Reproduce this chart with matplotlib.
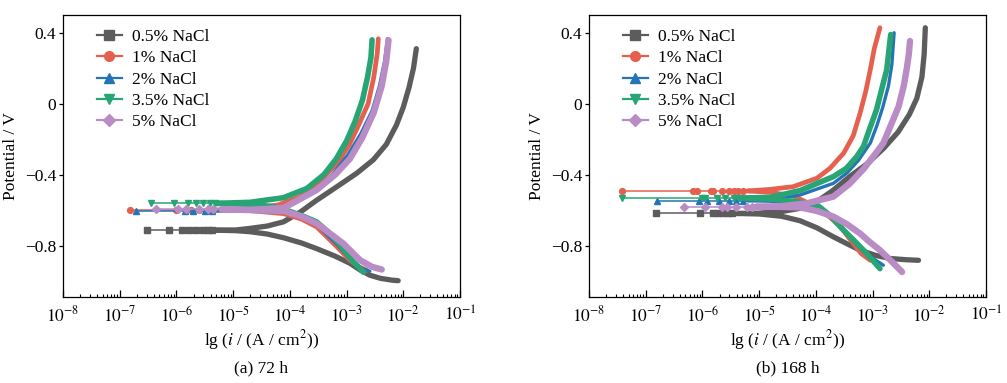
import numpy as np
import matplotlib.pyplot as plt
from matplotlib.lines import Line2D
from matplotlib.ticker import LogLocator, NullFormatter, FixedLocator

plt.rcParams['font.family'] = 'Liberation Serif'
plt.rcParams['mathtext.fontset'] = 'stix'
plt.rcParams['axes.unicode_minus'] = True

# series in legend order
labels = ['0.5% NaCl', '1% NaCl', '2% NaCl', '3.5% NaCl', '5% NaCl']
colors = ['#5c5c5c', '#e5604e', '#2574b5', '#27a574', '#ba8cc6']
markers = ['s', 'o', '^', 'v', 'D']
band_lw = [3.8, 3.4, 2.4, 4.0, 4.6]

# ---- (a) 72 h : log10(i) and potential (V) ----
ecorr_72 = [-0.713, -0.600, -0.603, -0.562, -0.596]
flat_72 = [
    [-6.52, -6.13, -5.90, -5.77, -5.65, -5.53, -5.45, -5.38],
    [-6.82, -6.00, -5.75, -5.60, -5.45, -5.35],
    [-6.72, -5.85, -5.70, -5.50, -5.38],
    [-6.45, -6.04, -5.79, -5.66, -5.53, -5.41, -5.32],
    [-6.36, -5.97, -5.83, -5.61, -5.45, -5.35],
]
cath_x_72 = [
    [-5.35, -4.95, -4.70, -4.40, -4.11, -3.80, -3.53, -3.20, -2.94, -2.75, -2.59, -2.40, -2.20, -2.09],
    [-5.30, -4.70, -4.11, -3.80, -3.53, -3.35, -3.17, -2.94, -2.78, -2.64],
    [-5.30, -4.70, -4.11, -3.80, -3.53, -3.15, -2.90, -2.72, -2.59],
    [-5.30, -4.70, -4.30, -4.11, -3.80, -3.53, -3.30, -3.11, -2.88, -2.70],
    [-5.20, -4.70, -4.11, -3.80, -3.53, -3.06, -2.76, -2.55, -2.38],
]
cath_e_72 = [
    [-0.713, -0.716, -0.722, -0.735, -0.756, -0.785, -0.817, -0.860, -0.900, -0.940, -0.967, -0.985, -0.995, -0.998],
    [-0.600, -0.603, -0.620, -0.650, -0.694, -0.750, -0.807, -0.883, -0.920, -0.940],
    [-0.603, -0.605, -0.612, -0.640, -0.680, -0.800, -0.890, -0.930, -0.945],
    [-0.562, -0.568, -0.580, -0.595, -0.630, -0.666, -0.730, -0.798, -0.892, -0.950],
    [-0.596, -0.600, -0.605, -0.635, -0.675, -0.788, -0.883, -0.920, -0.935],
]
anod_x_72 = [
    [-5.35, -4.95, -4.70, -4.40, -4.11, -3.82, -3.53, -3.17, -2.82, -2.53, -2.30, -2.12, -2.00, -1.90, -1.82, -1.77],
    [-5.30, -4.70, -4.20, -3.82, -3.45, -3.15, -2.95, -2.80, -2.62, -2.52, -2.46, -2.44],
    [-5.30, -4.70, -4.11, -3.60, -3.25, -2.98, -2.75, -2.55, -2.42, -2.33, -2.28],
    [-5.30, -4.70, -4.11, -3.70, -3.40, -3.18, -3.00, -2.85, -2.72, -2.63, -2.57, -2.55],
    [-5.20, -4.70, -4.11, -3.53, -3.20, -2.94, -2.72, -2.52, -2.38, -2.30, -2.26],
]
anod_e_72 = [
    [-0.713, -0.712, -0.703, -0.690, -0.666, -0.612, -0.545, -0.468, -0.392, -0.317, -0.230, -0.120, -0.020, 0.090, 0.200, 0.310],
    [-0.600, -0.594, -0.570, -0.524, -0.430, -0.330, -0.230, -0.130, 0.000, 0.150, 0.280, 0.366],
    [-0.603, -0.600, -0.585, -0.500, -0.400, -0.290, -0.170, -0.040, 0.100, 0.240, 0.366],
    [-0.562, -0.556, -0.530, -0.478, -0.400, -0.310, -0.210, -0.100, 0.020, 0.150, 0.260, 0.360],
    [-0.596, -0.598, -0.588, -0.487, -0.400, -0.310, -0.190, -0.050, 0.100, 0.240, 0.358],
]

# ---- (b) 168 h ----
ecorr_168 = [-0.619, -0.492, -0.547, -0.532, -0.581]
flat_168 = [
    [-6.82, -6.05, -5.81, -5.72, -5.63, -5.55, -5.47],
    [-7.41, -6.17, -6.10, -5.85, -5.81, -5.66, -5.54, -5.45, -5.37, -5.28],
    [-6.80, -6.06, -5.92, -5.71, -5.53, -5.40, -5.28],
    [-7.41, -6.00, -5.95, -5.75, -5.60, -5.45, -5.35],
    [-6.32, -5.95, -5.65, -5.57, -5.40, -5.22, -5.13],
]
cath_x_168 = [
    [-5.40, -5.00, -4.60, -4.28, -3.98, -3.69, -3.45, -3.22, -2.95, -2.69, -2.40, -2.19],
    [-5.20, -4.80, -4.40, -4.20, -3.98, -3.75, -3.57, -3.34, -3.20, -3.04],
    [-5.20, -4.80, -4.40, -3.98, -3.69, -3.51, -3.30, -3.10, -2.81],
    [-5.30, -4.80, -4.40, -3.98, -3.75, -3.51, -3.30, -3.16, -2.98, -2.87],
    [-5.05, -4.60, -4.28, -3.98, -3.69, -3.45, -3.22, -3.05, -2.87, -2.63, -2.48],
]
cath_e_168 = [
    [-0.619, -0.622, -0.635, -0.660, -0.700, -0.751, -0.790, -0.826, -0.855, -0.873, -0.880, -0.883],
    [-0.492, -0.500, -0.520, -0.550, -0.590, -0.640, -0.694, -0.788, -0.845, -0.883],
    [-0.547, -0.550, -0.560, -0.580, -0.640, -0.713, -0.790, -0.850, -0.911],
    [-0.532, -0.538, -0.550, -0.571, -0.630, -0.713, -0.780, -0.826, -0.890, -0.930],
    [-0.581, -0.582, -0.585, -0.605, -0.637, -0.680, -0.732, -0.780, -0.826, -0.900, -0.949],
]
anod_x_168 = [
    [-5.40, -5.00, -4.60, -4.28, -3.95, -3.69, -3.40, -3.10, -2.80, -2.55, -2.35, -2.22, -2.13, -2.09, -2.07],
    [-5.20, -4.80, -4.40, -3.98, -3.75, -3.51, -3.34, -3.22, -3.12, -3.04, -2.97, -2.87],
    [-5.20, -4.80, -4.28, -3.69, -3.45, -3.25, -3.04, -2.92, -2.82, -2.72, -2.66, -2.62],
    [-5.30, -4.80, -4.28, -3.98, -3.69, -3.46, -3.28, -3.16, -3.05, -2.93, -2.84, -2.75, -2.68],
    [-5.05, -4.60, -4.16, -3.69, -3.40, -3.15, -2.92, -2.81, -2.65, -2.54, -2.45, -2.40, -2.36, -2.34],
]
anod_e_168 = [
    [-0.619, -0.617, -0.608, -0.590, -0.545, -0.487, -0.410, -0.340, -0.250, -0.160, -0.060, 0.030, 0.150, 0.280, 0.428],
    [-0.492, -0.483, -0.468, -0.420, -0.364, -0.279, -0.180, -0.053, 0.070, 0.192, 0.310, 0.428],
    [-0.547, -0.543, -0.515, -0.449, -0.390, -0.320, -0.222, -0.120, -0.020, 0.100, 0.220, 0.400],
    [-0.532, -0.528, -0.490, -0.450, -0.411, -0.364, -0.298, -0.241, -0.140, -0.034, 0.080, 0.192, 0.390],
    [-0.581, -0.578, -0.562, -0.524, -0.450, -0.365, -0.270, -0.222, -0.100, -0.015, 0.100, 0.192, 0.280, 0.353],
]

fig = plt.figure(figsize=(10.07, 3.83), dpi=100)
ax1 = fig.add_axes([63 / 1007, 86 / 383, 397 / 1007, 282 / 383])
ax2 = fig.add_axes([589 / 1007, 86 / 383, 397 / 1007, 282 / 383])


def draw_panel(ax, ecorr, flat, cx, ce, axx, ae, caption):
    for k in range(len(labels)):
        c = colors[k]
        z = 2 + k
        # sparse points around the corrosion potential
        fx = flat[k] + [cx[k][0]]
        ax.plot(10.0 ** np.array(fx), [ecorr[k]] * len(fx), color=c, lw=1.1,
                marker=markers[k], ms=4.2, markevery=list(range(len(flat[k]))), zorder=z)
        # dense cathodic / anodic branches
        for xs, es in ((cx[k], ce[k]), (axx[k], ae[k])):
            ax.plot(10.0 ** np.array(xs), es, color=c, lw=band_lw[k],
                    solid_capstyle='round', solid_joinstyle='round', zorder=z)

    ax.set_xscale('log')
    ax.set_xlim(1e-8, 1e-1)
    ax.set_ylim(-1.09, 0.5)
    ax.set_yticks([-0.8, -0.4, 0, 0.4])
    ax.set_yticklabels(['\u22120.8', '\u22120.4', '0', '0.4'])
    ax.xaxis.set_major_locator(FixedLocator([10.0 ** p for p in range(-8, 0)]))
    ax.xaxis.set_minor_locator(LogLocator(base=10, subs=np.arange(2, 10), numticks=20))
    ax.xaxis.set_minor_formatter(NullFormatter())
    ax.set_xticklabels([r'$10^{%d}$' % p for p in range(-8, 0)])
    ax.tick_params(axis='x', which='major', direction='in', length=5, width=0.9, labelsize=12.5, pad=6)
    ax.tick_params(axis='x', which='minor', direction='in', length=2.5, width=0.8)
    ax.tick_params(axis='y', direction='out', length=3, width=0.9, labelsize=12.5, pad=2)
    for s in ax.spines.values():
        s.set_linewidth(0.9)
    ax.set_xlabel(r'lg ($\mathit{i}$ / (A / cm$^{2}$))', fontsize=12.5, labelpad=2)
    ax.set_ylabel('Potential / V', fontsize=12.5, labelpad=4)
    ax.text(0.5, -0.225, caption, transform=ax.transAxes, ha='center', va='top', fontsize=12.5)

    handles = [Line2D([0], [0], color=colors[k], lw=1.6, marker=markers[k], ms=7 if markers[k] != 'D' else 6)
               for k in range(len(labels))]
    ax.legend(handles, labels, loc='upper left', bbox_to_anchor=(0.085, 0.95), frameon=False,
              fontsize=12.5, handlelength=1.45, handletextpad=0.6, labelspacing=0.29,
              borderaxespad=0, borderpad=0)


draw_panel(ax1, ecorr_72, flat_72, cath_x_72, cath_e_72, anod_x_72, anod_e_72, '(a) 72 h')
draw_panel(ax2, ecorr_168, flat_168, cath_x_168, cath_e_168, anod_x_168, anod_e_168, '(b) 168 h')

fig.savefig('out.png', dpi=100)
